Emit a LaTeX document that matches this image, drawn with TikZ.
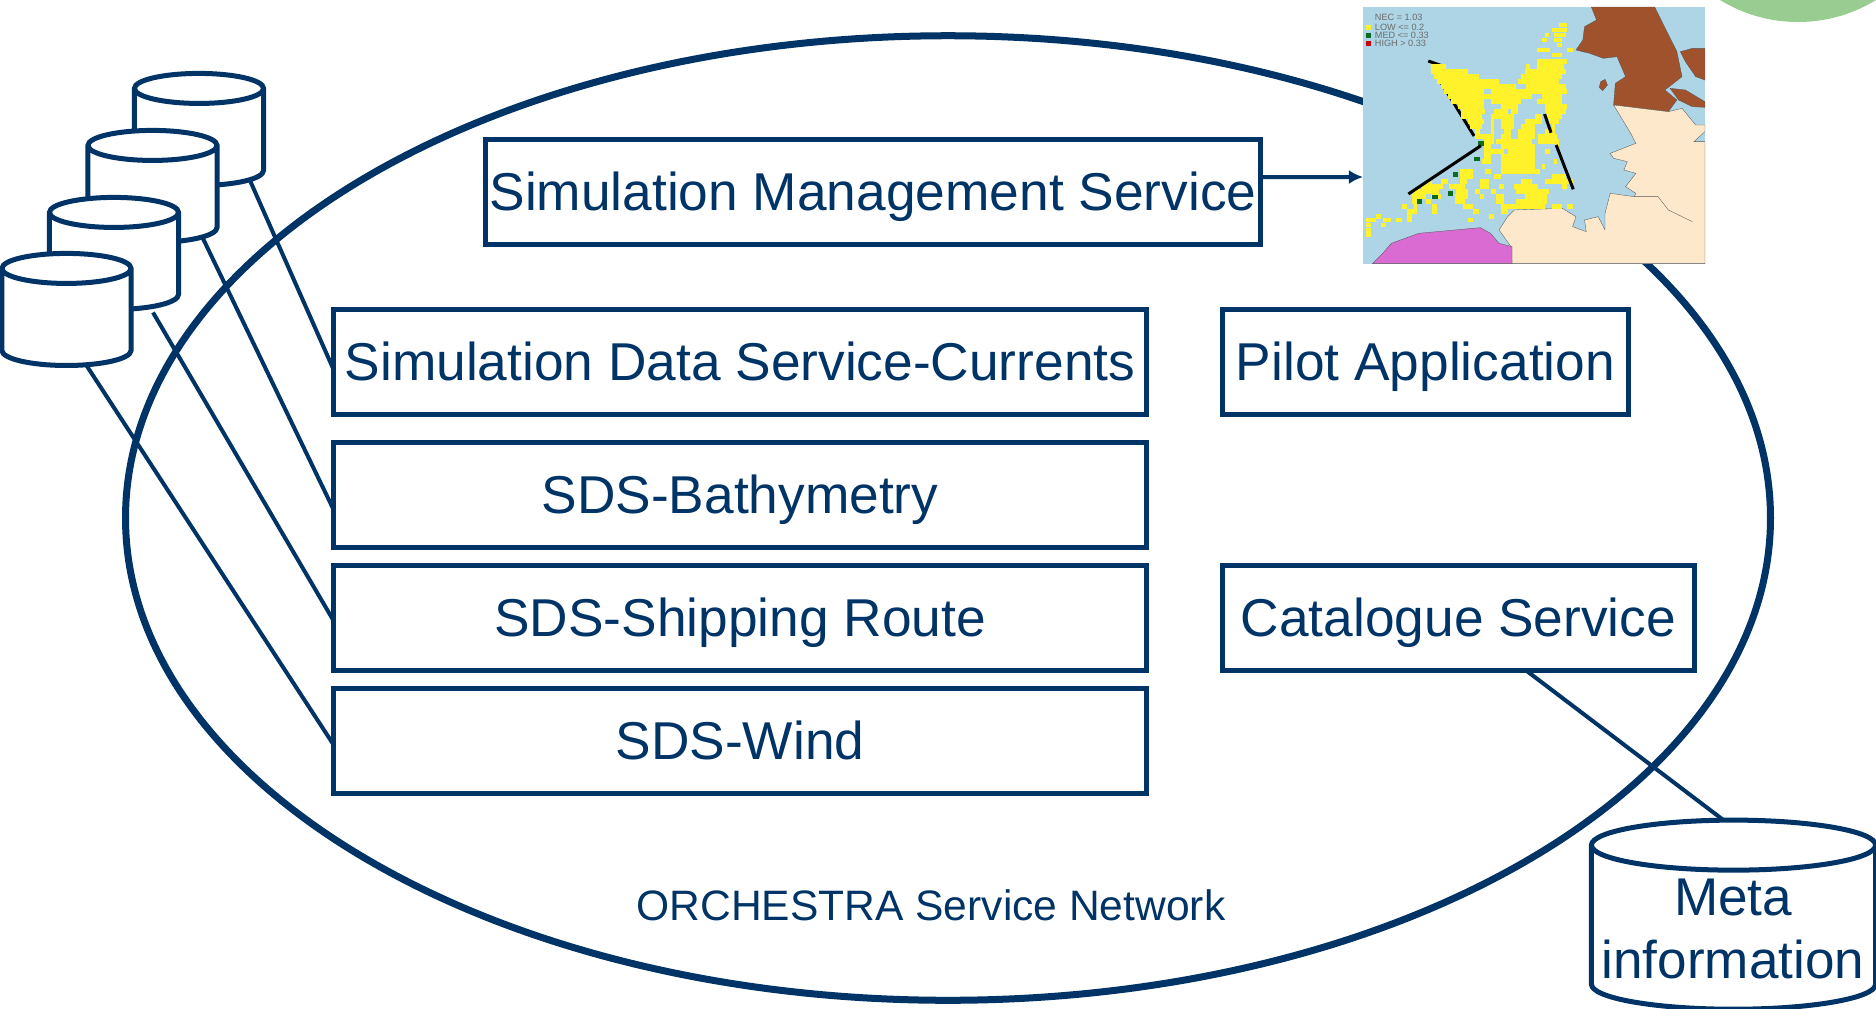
\documentclass[tikz,border=0pt]{standalone}
\usepackage{fontspec}
\setmainfont{Liberation Sans}
\usetikzlibrary{arrows.meta,shapes.geometric}
\definecolor{navy}{HTML}{003366}
\definecolor{seablue}{HTML}{ADD5E6}
\definecolor{landbrown}{HTML}{A0522D}
\definecolor{landcream}{HTML}{FDE8CC}
\definecolor{landpink}{HTML}{DA6BD2}
\definecolor{cellyellow}{HTML}{FFF22A}
\definecolor{cellgreen}{HTML}{0B6B1E}
\definecolor{blobgreen}{HTML}{98CC90}
\tikzset{
  svcbox/.style={draw=navy,line width=.05cm,outer sep=0pt,inner sep=0pt,minimum height=1.04cm,text=navy,text height=.37cm,text depth=0pt,font=\fontsize{15.15}{18}\selectfont},
  dbcyl/.style={cylinder,shape border rotate=90,draw=navy,fill=white,line width=.05cm,outer sep=0pt,inner sep=.15cm,aspect=1,minimum width=1.29cm,minimum height=1.12cm},
  link/.style={draw=navy,line width=.04cm},
  cell/.style={fill=cellyellow},
  coast/.style={draw=gray!70!black,line width=.1pt}
}
\begin{document}
\begin{tikzpicture}[x=.01cm,y=-.01cm]
\useasboundingbox (0,0) rectangle (1876,1008);
% network and blob
\begin{scope}
\clip (0,0) rectangle (1876,1008);
\fill[blobgreen] (1798,-127) circle (149);
\end{scope}
\node[draw=navy,line width=.07cm,ellipse,minimum width=16.44cm,minimum height=9.64cm,outer sep=0pt,inner sep=0pt] (network) at (948,518) {};
% map
\begin{scope}[shift={(1340,0)},xscale=.342,yscale=.3333]
\fill[seablue] (67,21) rectangle (1067,791);
\filldraw[coast,fill=landbrown] (735,21)--(750,60)--(715,80)--(710,120)--(690,150)--(730,160)--(770,175)--(810,170)--(835,230)--(805,250)--(800,315)--(960,335)--(985,300)--(950,270)--(1000,230)--(985,155)--(920,21)--cycle;
\filldraw[coast,fill=landbrown] (995,155)--(1030,145)--(1067,145)--(1067,240)--(1040,230)--(1010,185)--cycle;
\filldraw[coast,fill=landbrown] (965,265)--(1010,270)--(1067,305)--(1067,322)--(1030,320)--(990,300)--cycle;
\filldraw[coast,fill=landbrown] (762,245)--(775,238)--(782,255)--(768,272)--(758,262)--cycle;
\filldraw[coast,fill=landcream] (800,315)--(960,335)--(1000,325)--(1040,375)--(1067,375)--(1067,395)--(1035,425)--(1067,425)--(1067,791)--(503,791)--(500,740)--(465,690)--(490,650)--(510,630)--(650,625)--(690,650)--(680,680)--(720,695)--(715,660)--(755,650)--(775,690)--(775,640)--(790,580)--(860,590)--(865,580)--(835,560)--(865,520)--(830,510)--(840,485)--(800,475)--(790,460)--(865,430)--(850,400)--cycle;
\draw[coast] (860,590)--(930,590)--(960,630)--(1030,665);
\filldraw[coast,fill=landpink] (95,791)--(125,760)--(150,730)--(230,700)--(410,683)--(440,700)--(465,730)--(503,740)--(503,791)--cycle;
\draw[black,line width=.03cm] (258,183)--(305,200) (285,230)--(392,408);
% cells, one row per y
\foreach \y/\a/\b in {75/640/665,90/620/665,105/600/610,105/625/660,120/590/605,120/625/650,135/635/650,150/575/615,150/665/680,165/620/650,185/575/665,200/265/310,200/545/555,200/575/655,
215/265/375,215/540/660,230/275/405,230/530/650,245/285/465,245/520/640,260/295/515,260/545/660,275/305/420,275/440/665,290/315/560,290/590/650,305/325/420,305/440/530,305/575/650,
320/345/420,320/470/520,320/600/665,335/355/425,335/450/490,335/500/520,335/600/660,350/355/415,350/440/510,350/570/590,350/605/650,365/375/420,365/440/450,365/470/510,365/540/590,365/610/640,
380/380/415,380/440/450,380/470/510,380/530/570,380/620/630,395/395/410,395/440/450,395/480/500,395/520/570,395/600/630,410/395/450,410/470/500,410/520/570,410/580/635,
425/420/450,425/455/560,425/580/640,440/420/440,440/470/570,440/630/640,455/420/480,455/490/570,455/600/615,470/420/440,470/470/570,485/415/440,485/470/570,485/625/635,500/470/570,500/590/600,
515/350/390,515/425/440,515/470/585,530/350/390,530/450/470,530/620/660,545/255/270,545/295/315,545/350/370,545/410/435,545/530/560,545/600/680,
560/240/300,560/320/365,560/410/435,560/465/480,560/510/580,560/650/665,575/215/290,575/340/375,575/395/410,575/440/455,575/515/610,590/210/250,590/265/295,590/335/375,590/410/420,590/455/480,590/540/605,
605/210/225,605/250/265,605/335/365,605/455/480,605/515/605,620/180/195,620/215/225,620/270/285,620/360/390,620/470/600,620/620/650,620/665/680,635/195/225,635/270/285,635/390/405,635/470/490,
650/105/120,650/195/210,650/435/450,660/75/105,660/125/150,660/165/180,660/195/210,660/375/390,675/75/90,675/120/135,690/75/90,703/75/90}
  \fill[cell] (\a,\y-6.8) rectangle (\b,\y+6.8);
\foreach \x/\y in {412/430,400/477,338/523,232/604,278/591,323/581}
  \fill[cellgreen] (\x-8,\y-7) rectangle (\x+8,\y+7);
\draw[black,line width=.03cm] (200,582)--(412,437) (632,435)--(682,568) (598,342)--(617,398);
\foreach \y/\c in {82/cellyellow,106/cellgreen,130/red!80!black}
  \fill[\c] (75,\y-7) rectangle (90,\y+7);
\foreach \y/\t in {52/NEC = 1.03,82/LOW <= 0.2,106/MED <= 0.33,130/HIGH > 0.33}
  \node[anchor=west,inner sep=0pt,text=gray!85!black,font=\fontsize{2.6}{3}\selectfont] (legend\y) at (100,\y) {\t};
\end{scope}
\coordinate (mapedge) at (1363,177);
% services
\node[svcbox,minimum width=7.74cm] (sms) at (873,192) {Simulation Management Service};
\node[svcbox,minimum width=8.12cm] (sdscur) at (740,362) {Simulation Data Service-Currents};
\node[svcbox,minimum width=8.12cm] (sdsbath) at (740,495) {SDS-Bathymetry};
\node[svcbox,minimum width=8.12cm] (sdsship) at (740,618) {SDS-Shipping Route};
\node[svcbox,minimum width=8.12cm] (sdswind) at (740,741) {SDS-Wind};
\node[svcbox,minimum width=4.06cm] (pilot) at (1425.5,362) {Pilot Application};
\node[svcbox,minimum width=4.72cm] (catalog) at (1458.5,618) {Catalogue Service};
\node[text=navy,font=\fontsize{12.1}{14}\selectfont] (netlabel) at (931,905) {ORCHESTRA Service Network};
% data stores
\node[dbcyl] (dbcur) at (199,143) {};
\node[dbcyl] (dbbath) at (152.5,200) {};
\node[dbcyl] (dbship) at (114,267) {};
\node[dbcyl] (dbwind) at (66.5,323) {};
\node[dbcyl,aspect=1,inner sep=.25cm,minimum width=2.84cm,minimum height=1.89cm] (meta) at (1733.5,935.5) {};
\node[text=navy,align=center,inner sep=0pt,font=\fontsize{15.1}{18.1}\selectfont] (metatext) at (1733,929) {Meta\\information};
% links
\draw[link,-{Latex[length=4pt,width=4pt]}] ([yshift=.15cm]sms.east)--(mapedge);
\draw[link] ([shift={(51,-5)}]dbcur.south)--([yshift=-.08cm]sdscur.west);
\draw[link] ([shift={(50,-5)}]dbbath.south)--([yshift=-.15cm]sdsbath.west);
\draw[link] ([shift={(39,3)}]dbship.south)--([yshift=-.03cm]sdsship.west);
\draw[link] ([xshift=.2cm]dbwind.south)--([yshift=-.04cm]sdswind.west);
\draw[link] ([xshift=.67cm]catalog.south)--([xshift=-.1cm]meta.north);
\end{tikzpicture}
\end{document}
